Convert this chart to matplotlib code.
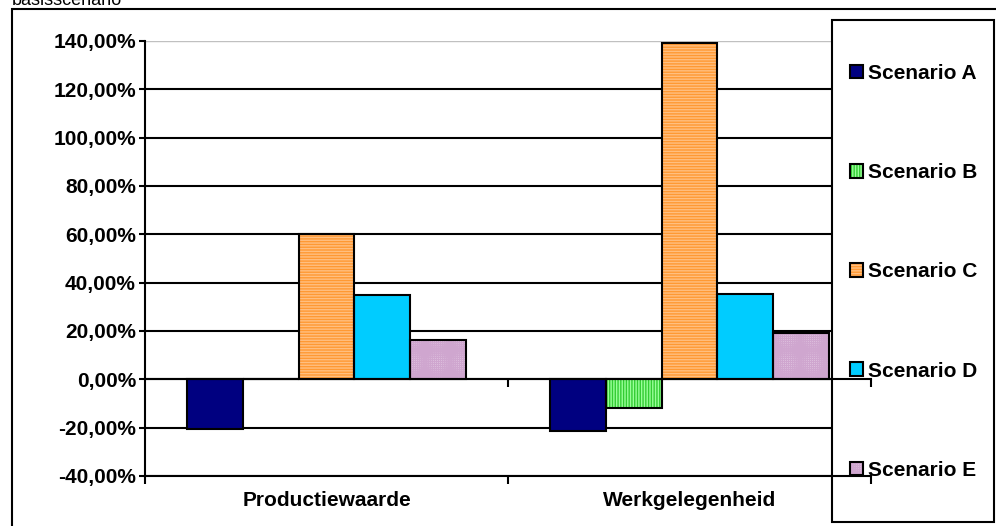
import matplotlib
matplotlib.use("Agg")
import matplotlib.pyplot as plt
from matplotlib.patches import Rectangle
from matplotlib.legend_handler import HandlerTuple
from matplotlib.ticker import FuncFormatter
import numpy as np

plt.rcParams["font.family"] = ["Liberation Sans", "DejaVu Sans"]
plt.rcParams["hatch.linewidth"] = 1.0

categories = ["Productiewaarde", "Werkgelegenheid"]
scenarios = ["Scenario A", "Scenario B", "Scenario C", "Scenario D", "Scenario E"]
scen_a = [-20.4, -21.5]
scen_b = [0.0, -11.8]
scen_c = [60.0, 139.0]
scen_d = [34.9, 35.5]
scen_e = [16.1, 19.2]
values = [scen_a, scen_b, scen_c, scen_d, scen_e]
yticks = [-40, -20, 0, 20, 40, 60, 80, 100, 120, 140]

# face, hatch pattern, hatch colour
styles = [("#000080", "", "#000080"),
          ("#99ff99", "||||||", "#33cc33"),
          ("#ff9933", "------", "#ffbf80"),
          ("#00ccff", "", "#00ccff"),
          ("#f2e4f2", "++++++++", "#cfa6cf")]

FS = 15
fig = plt.figure(figsize=(9.96, 5.26), dpi=100)
ax = fig.add_axes([145/996, 1-476/526, 726/996, 435/526])

x = np.arange(len(categories))
w = 0.154
handles = []
for i, (vals, (fc, hatch, hc)) in enumerate(zip(values, styles)):
    pos = x + (i - 2) * w
    ax.bar(pos, vals, w, color=fc, hatch=hatch, edgecolor=hc, lw=0, zorder=1)
    ax.bar(pos, vals, w, fill=False, edgecolor="black", lw=1.5, zorder=1.1)
    h1 = Rectangle((0, 0), 1, 1, facecolor=fc, hatch=hatch, edgecolor=hc, lw=0)
    h2 = Rectangle((0, 0), 1, 1, fill=False, edgecolor="black", lw=1.5)
    handles.append((h1, h2))

ax.set_xlim(-0.5, 1.5)
ax.set_ylim(-40, 140)
ax.set_yticks(yticks)
ax.yaxis.set_major_formatter(FuncFormatter(lambda v, p: f"{v:.2f}%".replace(".", ",")))
ax.set_xticks([-0.5, 0.5, 1.5])
ax.set_xticklabels([])
ax.set_xticks(x, minor=True)
ax.set_xticklabels(categories, minor=True)
ax.tick_params(axis="x", which="major", direction="out", length=6, width=1.5, color="black")
ax.tick_params(axis="x", which="minor", length=0, pad=11, labelsize=FS)
ax.tick_params(axis="y", direction="out", length=4.5, width=1.5, pad=2, labelsize=FS)
for lab in ax.get_xticklabels(minor=True) + ax.get_yticklabels():
    lab.set_fontweight("bold")

ax.set_axisbelow(True)
ax.yaxis.grid(True, color="black", lw=1.5)
ax.yaxis.get_gridlines()[-1].set_color("#c0c0c0")
ax.yaxis.get_gridlines()[-1].set_linewidth(1.0)
ax.xaxis.set_zorder(3.2)
for s in ("top", "right"):
    ax.spines[s].set_visible(False)
ax.spines["left"].set_linewidth(1.5)
ax.spines["bottom"].set_linewidth(1.5)
ax.spines["bottom"].set_zorder(3.2)

# zero line with its category ticks
zero = ax.secondary_xaxis(40/180)
zero.set_xticks([0.5, 1.5])
zero.set_xticklabels([])
zero.tick_params(direction="out", length=6, width=1.5)
zero.spines["bottom"].set_linewidth(1.5)
zero.set_zorder(3.5)

# legend box (drawn over grid, under the axis lines)
ax.add_patch(Rectangle((832/996, 1-522/526), 162/996, 502/526, transform=fig.transFigure,
                       facecolor="white", edgecolor="black", lw=1.5, clip_on=False, zorder=2.7))
leg = ax.legend(handles, scenarios, handler_map={tuple: HandlerTuple(ndivide=1, pad=0)},
                loc="upper left", bbox_to_anchor=(850/996, 1-64/526), bbox_transform=fig.transFigure,
                frameon=False, borderpad=0, borderaxespad=0, handlelength=0.63, handleheight=0.63,
                handletextpad=0.24, labelspacing=3.85, prop={"size": FS, "weight": "bold"})
leg.set_zorder(5)

# outer chart border and title remnant
fig.add_artist(Rectangle((12/996, -0.05), 1.1, 1.05 - 9/526, transform=fig.transFigure,
                         fill=False, edgecolor="black", lw=1.5))
fig.text(12/996, 1-5/526, "basisscenario", fontsize=13, va="baseline", ha="left")

fig.savefig("out.png", dpi=100)
